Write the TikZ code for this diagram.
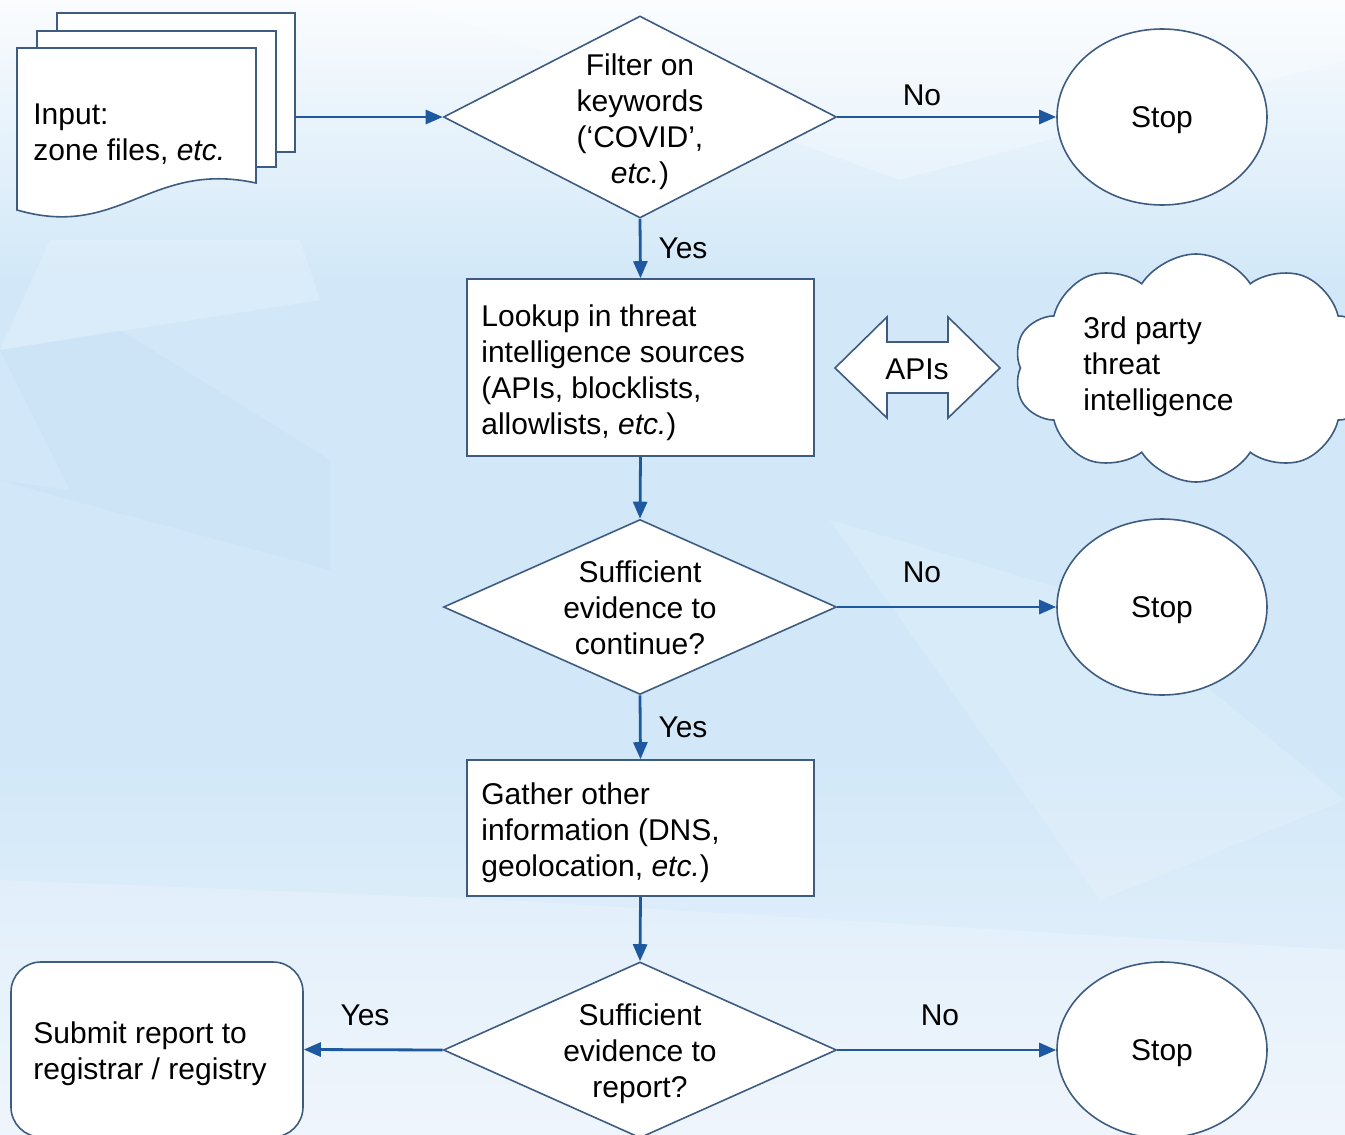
\documentclass[tikz,border=0pt]{standalone}
\usepackage{fontspec}
\setmainfont{Liberation Sans}
\usetikzlibrary{shapes.geometric,shapes.symbols,arrows.meta}

\definecolor{shapeline}{RGB}{62,92,128}
\definecolor{arrowblue}{RGB}{30,88,160}
\definecolor{bgtop}{RGB}{250,252,254}
\definecolor{bgmid}{RGB}{210,232,248}
\definecolor{bgbot}{RGB}{236,243,252}
\definecolor{facet}{RGB}{196,222,245}

\begin{document}
\begin{tikzpicture}[x=0.5pt,y=-0.5pt,
  font=\fontsize{15pt}{18pt}\selectfont,
  shp/.style={draw=shapeline, line width=0.8pt, fill=white},
  dia/.style={shp, diamond, inner sep=0pt, minimum width=196.5pt},
  stopn/.style={shp, ellipse, minimum width=105pt, minimum height=88pt, text depth=0pt},
  procbox/.style={shp, rectangle, inner sep=0pt, minimum width=173.5pt},
  lbl/.style={inner sep=0pt},
  txt/.style={inner sep=0pt},
  arr/.style={draw=arrowblue, line width=1.4pt, -{Triangle[length=8.5pt,width=7pt]}}
]
% background
\shade[top color=bgtop, bottom color=bgmid] (0,0) rectangle (1345,280);
\fill[bgmid] (0,279) rectangle (1345,760);
\shade[top color=bgmid, bottom color=bgbot] (0,759) rectangle (1345,1135);
\fill[facet, opacity=0.35] (0,350) -- (120,330) -- (330,460) -- (70,490) -- cycle;
\fill[white, opacity=0.18] (50,240) -- (300,240) -- (320,300) -- (0,350) -- cycle;
\fill[facet, opacity=0.3] (0,480) -- (70,490) -- (330,460) -- (330,570) -- (70,500) -- cycle;
\fill[white, opacity=0.15] (830,520) -- (1100,600) -- (1345,800) -- (1100,900) -- cycle;
\fill[white, opacity=0.2] (0,880) -- (500,900) -- (1345,950) -- (1345,1135) -- (0,1135) -- cycle;
\fill[white, opacity=0.25] (400,0) -- (1345,0) -- (1345,60) -- (900,180) -- cycle;
\path[use as bounding box] (0,0) rectangle (1345,1135);

% input documents
\filldraw[shp] (57,13) rectangle (295,152);
\filldraw[shp] (37,31) rectangle (276,167);
\filldraw[shp] (17,48) -- (256,48) -- (256,183) .. controls (150,160) and (120,240) .. (17,210) -- cycle;
\node[txt, anchor=west, align=left] (inp) at (33,134) {Input:\\zone files, \textit{etc.}};
\coordinate (docout) at (295,117);

% decision 1
\node[dia, minimum height=101pt] (d1) at (640,117) {};
\node[txt, align=center] (d1t) at (640,122) {Filter on\\keywords\\(‘COVID’,\\\textit{etc.})};
\node[stopn] (s1) at (1162,117) {Stop};

% lookup box
\node[procbox, minimum height=88.5pt] (b1) at (640.5,367.5) {};
\node[txt, anchor=west, align=left] (b1t) at (481,372.5) {Lookup in threat\\intelligence sources\\(APIs, blocklists,\\allowlists, \textit{etc.})};

% APIs double arrow
\filldraw[shp] (835,368) -- (887,317) -- (887,342) -- (948,342) -- (948,317) -- (1000,368)
  -- (948,418) -- (948,393) -- (887,393) -- (887,418) -- cycle;
\node[txt] (api) at (917,369) {APIs};

% cloud
\node[shp, cloud, cloud puffs=10, cloud puff arc=115, aspect=1.5,
  minimum width=182pt, minimum height=114pt, inner sep=0pt] (cl) at (1196,368) {};
\node[txt, anchor=west, align=left] (clt) at (1083,367) {3rd party\\threat\\intelligence};

% decision 2
\node[dia, minimum height=87.5pt] (d2) at (640,607) {};
\node[txt, align=center] (d2t) at (640,608) {Sufficient\\evidence to\\continue?};
\node[stopn] (s2) at (1162,607) {Stop};

% gather box
\node[procbox, minimum height=68pt] (b2) at (640.5,828) {};
\node[txt, anchor=west, align=left] (b2t) at (481,833) {Gather other\\information (DNS,\\geolocation, \textit{etc.})};

% decision 3
\node[dia, minimum height=88pt] (d3) at (640,1050) {};
\node[txt, align=center] (d3t) at (640,1054) {Sufficient\\evidence to\\report?};
\node[stopn] (s3) at (1162,1050) {Stop};

% submit
\node[shp, rectangle, rounded corners=15pt, inner sep=0pt, minimum width=146pt,
  minimum height=87.5pt] (sub) at (157,1049.5) {};
\node[txt, anchor=west, align=left] (subt) at (33,1053.5) {Submit report to\\registrar / registry};

% connectors
\draw[arr] (docout) -- (d1.west);
\draw[arr] (d1.east) -- (s1.west);
\draw[arr] (d1.south) -- (b1.north);
\draw[arr] (b1.south) -- (d2.north);
\draw[arr] (d2.east) -- (s2.west);
\draw[arr] (d2.south) -- (b2.north);
\draw[arr] (b2.south) -- (d3.north);
\draw[arr] (d3.east) -- (s3.west);
\draw[arr] (d3.west) -- (sub.east);

% labels
\node[lbl] (no1) at (922,95) {No};
\node[lbl] (yes1) at (683,248) {Yes};
\node[lbl] (no2) at (922,572) {No};
\node[lbl] (yes2) at (683,727) {Yes};
\node[lbl] (no3) at (940,1015) {No};
\node[lbl] (yes3) at (365,1015) {Yes};
\end{tikzpicture}
\end{document}
